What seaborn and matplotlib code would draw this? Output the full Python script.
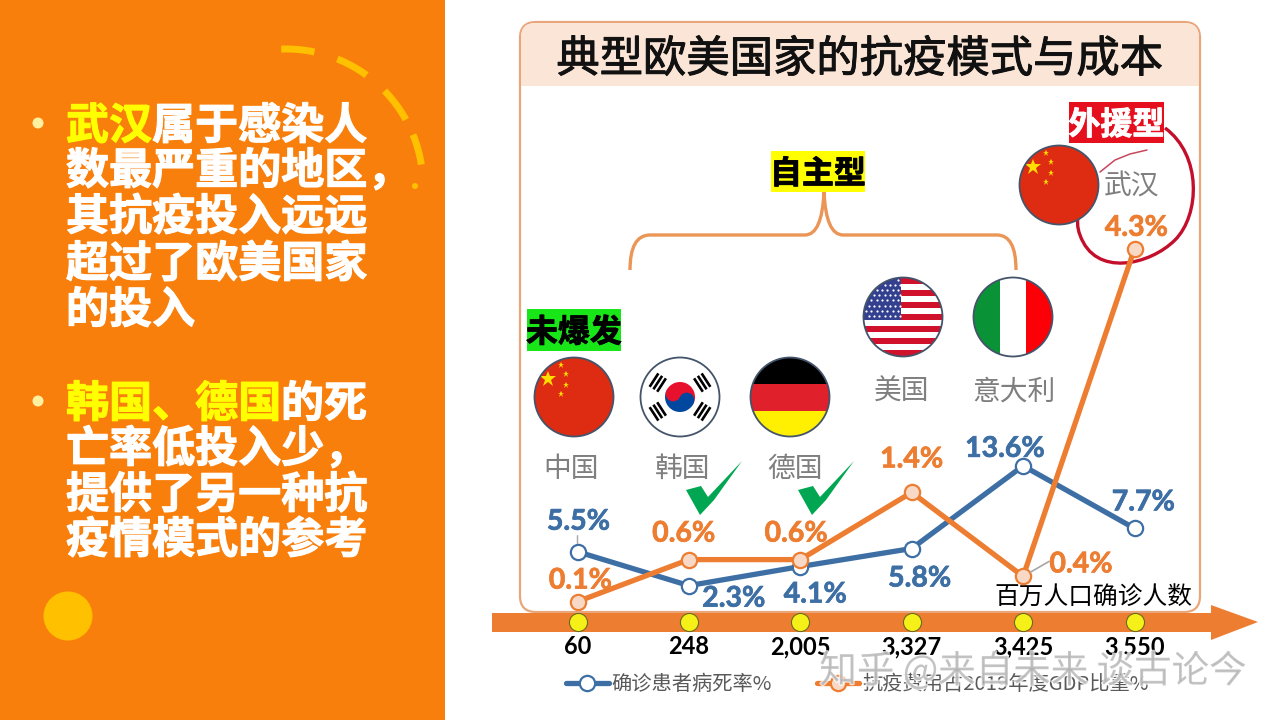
#!/usr/bin/env python3
# -*- coding: utf-8 -*-
import numpy as np
import pandas as pd
import matplotlib
matplotlib.use('Agg')
import matplotlib.pyplot as plt
import matplotlib.patheffects as pe
from matplotlib.patches import Rectangle, Circle, FancyBboxPatch, Polygon, Wedge, PathPatch
from matplotlib.path import Path
import seaborn as sns

regions = ['中国', '韩国', '德国', '美国', '意大利', '武汉']
cases = ['60', '248', '2,005', '3,327', '3,425', '3,550']
death_rate = [5.5, 2.3, 4.1, 5.8, 13.6, 7.7]
cost_share = [0.1, 0.6, 0.6, 1.4, 0.4, 4.3]
death_name = '确诊患者病死率%'
cost_name = '抗疫费用占2019年度GDP比重%'
title_text = '典型欧美国家的抗疫模式与成本'
axis_name = '百万人口确诊人数'
para_one = [[('武汉', 'y'), ('属于感染人', 'w')], [('数最严重的地区，', 'w')], [('其抗疫投入远远', 'w')],
            [('超过了欧美国家', 'w')], [('的投入', 'w')]]
para_two = [[('韩国、德国', 'y'), ('的死', 'w')], [('亡率低投入少，', 'w')], [('提供了另一种抗', 'w')],
            [('疫情模式的参考', 'w')]]

CJK = ['Noto Sans CJK SC', 'DejaVu Sans']
LATIN = ['Lato', 'Noto Sans CJK SC', 'DejaVu Sans']
BLUE = '#3d6fa5'
ORANGE = '#ed7d31'
BAND = '#f97f0c'
GOLD = '#ffc000'
PALE = '#eb9557'

sns.set_theme(style='white')
plt.rcParams['font.family'] = CJK

fig = plt.figure(figsize=(12.8, 7.2), dpi=100, facecolor='white')

# 底层：用像素坐标画装饰
bg = fig.add_axes([0, 0, 1, 1])
bg.set_xlim(0, 1280)
bg.set_ylim(720, 0)
bg.axis('off')

bg.add_patch(Rectangle((0, 0), 445, 720, color=BAND, lw=0))


def arc(cx, cy, r, a0, a1):
    t = np.radians(np.linspace(a0, a1, 30))
    bg.plot(cx + r * np.cos(t), cy + r * np.sin(t), color=GOLD, lw=5, solid_capstyle='butt')


for a0, a1 in [(-92, -78), (-68, -54), (-44, -29), (-22, -9)]:
    arc(286, 186, 137, a0, a1)
bg.add_patch(Circle((415, 186), 3, color=GOLD, lw=0))
bg.add_patch(Circle((68, 616), 24.5, color=GOLD, lw=0))


def runs(x, y, parts):
    colors = {'y': '#ffff00', 'w': 'white'}
    for txt, c in parts:
        bg.text(x, y, txt, color=colors[c], fontsize=31, fontweight='bold', ha='left', va='center',
                path_effects=[pe.withStroke(linewidth=0.8, foreground=colors[c])])
        x += 43 * len(txt)


for y, parts in zip([126, 171, 217, 264, 310], para_one):
    runs(66, y, parts)
for y, parts in zip([404, 449, 495, 540], para_two):
    runs(66, y, parts)
bg.add_patch(Circle((38, 123), 5.5, color='#fff1a0', lw=0))
bg.add_patch(Circle((38, 401), 5.5, color='#fff1a0', lw=0))

# 面板
bg.add_patch(FancyBboxPatch((520, 22), 680, 590, boxstyle='round,pad=0,rounding_size=16',
                            fc='white', ec='#e9a67a', lw=1.6))
bg.add_patch(FancyBboxPatch((521, 23), 678, 63, boxstyle='round,pad=0,rounding_size=14',
                            fc='#fbe5d6', ec='none'))
bg.add_patch(Rectangle((521, 60), 678, 26, fc='#fbe5d6', ec='none'))
bg.text(860, 60, title_text, fontsize=31.2, fontweight='medium', color='#111111', ha='center', va='center',
        path_effects=[pe.withStroke(linewidth=0.7, foreground='#111111')])

# 箭头
bg.add_patch(Polygon([(492, 613), (1211, 613), (1211, 605), (1258, 622), (1211, 640), (1211, 632), (492, 632)],
                     fc=ORANGE, ec='none', zorder=4))


# 国旗
def flag_base(cx, cy, fc, r=39.5):
    disc = Circle((cx, cy), r, fc=fc, ec='none', zorder=3)
    bg.add_patch(disc)
    return disc


def flag_edge(cx, cy, r=39.5):
    bg.add_patch(Circle((cx, cy), r, fc='none', ec='#44546a', lw=1.3, zorder=6))


def clip_rect(x, y, w, h, color, disc):
    p = Rectangle((x, y), w, h, fc=color, ec='none', zorder=4)
    bg.add_patch(p)
    p.set_clip_path(disc)


def china(cx, cy):
    flag_base(cx, cy, '#dd2c12')
    bg.plot(cx - 26, cy - 18, marker='*', ms=12, color='#ffde00', mew=0, zorder=5)
    for dx, dy in [(-13, -32), (-8, -23), (-8, -12), (-13, -3)]:
        bg.plot(cx + dx, cy + dy, marker='*', ms=5, color='#ffde00', mew=0, zorder=5)
    flag_edge(cx, cy)


def korea(cx, cy):
    flag_base(cx, cy, 'white')
    bg.add_patch(Wedge((cx, cy), 15, 205, 385, fc='#e8112d', ec='none', zorder=4))
    bg.add_patch(Wedge((cx, cy), 15, 25, 205, fc='#0047a0', ec='none', zorder=4))
    ca, sa = np.cos(np.radians(25)), np.sin(np.radians(25))
    bg.add_patch(Circle((cx - 7.5 * ca, cy - 7.5 * sa), 7.5, fc='#e8112d', ec='none', zorder=5))
    bg.add_patch(Circle((cx + 7.5 * ca, cy + 7.5 * sa), 7.5, fc='#0047a0', ec='none', zorder=5))
    for ang in [-147, -33, 33, 147]:
        ux, uy = np.cos(np.radians(ang)), np.sin(np.radians(ang))
        for d in [22, 26.5, 31]:
            mx, my = cx + d * ux, cy + d * uy
            bg.plot([mx - 8 * uy, mx + 8 * uy], [my + 8 * ux, my - 8 * ux], color='black', lw=1.9,
                    solid_capstyle='butt', zorder=5)
    flag_edge(cx, cy)


def germany(cx, cy):
    disc = flag_base(cx, cy, '#ffef00')
    clip_rect(cx - 40, cy - 40, 80, 27, 'black', disc)
    clip_rect(cx - 40, cy - 13, 80, 27, '#e0202a', disc)
    flag_edge(cx, cy)


def usa(cx, cy):
    disc = flag_base(cx, cy, 'white')
    h = 79 / 13
    for i in range(0, 13, 2):
        clip_rect(cx - 40, cy - 39.5 + i * h, 80, h, '#d0112b', disc)
    clip_rect(cx - 40, cy - 39.5, 38, 7 * h, '#33408f', disc)
    for r_i in range(8):
        for c_i in range(7):
            sx, sy = cx - 37 + c_i * 5.3 + (r_i % 2) * 2.6, cy - 37 + r_i * 5.1
            if (sx - cx) ** 2 + (sy - cy) ** 2 < 38 ** 2:
                bg.plot(sx, sy, 'o', ms=1.6, color='white', mew=0, zorder=5)
    flag_edge(cx, cy)


def italy(cx, cy):
    disc = flag_base(cx, cy, 'white')
    clip_rect(cx - 40, cy - 40, 27, 80, '#0a9236', disc)
    clip_rect(cx + 13, cy - 40, 27, 80, '#fb0007', disc)
    flag_edge(cx, cy)


china(574, 397)
korea(680, 397)
germany(790, 397)
usa(903, 317)
italy(1013, 317)
china(1059, 185)

# 地区名
for name, x, y in zip(regions, [571, 683, 795, 902, 1014, 1132], [469, 469, 469, 392, 392, 187]):
    bg.text(x, y, name, fontsize=20, color='#7f7f7f', ha='center', va='center')

# 对勾
for dx in [0, 112]:
    pts = [(686, 490), (701, 486), (708, 497), (742, 461), (714, 500), (700, 515)]
    bg.add_patch(Polygon([(x + dx, y) for x, y in pts], fc='#00a651', ec='none', zorder=5))


# 类型标签
def tag(x0, x1, y0, y1, txt, fc, tc):
    bg.add_patch(Rectangle((x0, y0), x1 - x0, y1 - y0, fc=fc, ec='none', zorder=6))
    bg.text((x0 + x1) / 2, (y0 + y1) / 2 + 3, txt, fontsize=23, fontweight='bold', color=tc, ha='center',
            va='center', zorder=7, path_effects=[pe.withStroke(linewidth=0.6, foreground=tc)])


tag(771, 865, 151, 192, '自主型', '#ffff00', 'black')
tag(1069, 1164, 102, 143, '外援型', '#e60f1e', 'white')
tag(527, 621, 309, 351, '未爆发', '#19e619', 'black')

# 大括号
brace = Path([(630, 270), (630, 235), (650, 235), (805, 235), (822, 235), (824, 192),
              (826, 235), (843, 235), (997, 235), (1016, 235), (1016, 270)],
             [Path.MOVETO, Path.CURVE3, Path.CURVE3, Path.LINETO, Path.CURVE3, Path.CURVE3,
              Path.CURVE3, Path.CURVE3, Path.LINETO, Path.CURVE3, Path.CURVE3])
bg.add_patch(PathPatch(brace, fc='none', ec=PALE, lw=2.4))

# 手绘红圈
ring = Path([(1165, 128), (1202, 155), (1200, 215), (1175, 240), (1150, 265), (1095, 278), (1080, 235),
             (1074, 220), (1080, 205), (1088, 195)],
            [Path.MOVETO] + [Path.CURVE4] * 9)
bg.add_patch(PathPatch(ring, fc='none', ec='#c40f2c', lw=2.4))
bg.plot([1100, 1115, 1130, 1147], [172, 160, 154, 150], color='#c9475c', lw=1.1, zorder=6)

bg.text(1093, 598, axis_name, fontsize=17.8, color='black', ha='center', va='center', zorder=8,
        fontweight='medium')

# 折线图：两条线共用类别轴
df = pd.DataFrame({'cases': cases, 'death': death_rate, 'cost': cost_share})

x_left, x_step = 577.5, 111.4
ax = fig.add_axes([(x_left - x_step / 2) / 1280, 110 / 720, 6 * x_step / 1280, 370 / 720])
ax.patch.set_alpha(0)
sns.lineplot(data=df, x='cases', y='death', ax=ax, color=BLUE, lw=3.8, marker='o', ms=11, mfc='white',
             mec=BLUE, mew=1.6, label=death_name, legend=False, sort=False)
ax.set_xlim(-0.5, 5.5)
ax.set_ylim(0, 370 / 10.6)

ax2 = ax.twinx()
ax2.patch.set_alpha(0)
sns.lineplot(data=df, x='cases', y='cost', ax=ax2, color=ORANGE, lw=3.8, marker='o', ms=11, mfc='#f8d9c6',
             mec=ORANGE, mew=1.6, label=cost_name, legend=False, sort=False)
ax2.set_ylim(0, 370 / 84)

for a in (ax, ax2):
    sns.despine(ax=a, left=True, bottom=True, right=True, top=True)
    a.set_xlabel('')
    a.set_ylabel('')
    a.set_yticks([])
    a.grid(False)

ax.tick_params(axis='x', length=0, pad=18)
for lab in ax.get_xticklabels():
    lab.set_fontfamily(LATIN)
    lab.set_fontsize(17)
    lab.set_fontweight('bold')
    lab.set_color('black')
ax2.tick_params(axis='x', labelbottom=False, length=0)

# 坐标轴上的黄点
ax.scatter(range(len(cases)), [-12 / 370] * len(cases), transform=ax.get_xaxis_transform(), s=170,
           color='#f5f018', edgecolor='#6d6a20', lw=0.8, clip_on=False, zorder=6)

# 数据标签，偏移量单位是像素
death_off = [(1, 30), (45, -13), (15, -28), (8, -30), (-18, 17), (9, 26)]
cost_off = [(3, 21), (-5, 26), (-4, 26), (0, 33), (58, 12), (2, 21)]


def label(a, values, offsets, color):
    for i, (v, off) in enumerate(zip(values, offsets)):
        a.annotate(f'{v}%', (i, v), xytext=off, textcoords='offset pixels', ha='center', va='center',
                   fontsize=20.5, fontweight='bold', family=LATIN, color=color, annotation_clip=False,
                   zorder=7, path_effects=[pe.withStroke(linewidth=0.5, foreground=color)])


label(ax, death_rate, death_off, BLUE)
label(ax2, cost_share, cost_off, ORANGE)

# 引导线
ax2.annotate('', (4, cost_share[4]), xytext=(26, 15), textcoords='offset pixels',
             arrowprops=dict(arrowstyle='-', color='#a6a6a6', lw=1.2, shrinkA=0, shrinkB=6))
ax.annotate('', (0, death_rate[0]), xytext=(0, 16), textcoords='offset pixels',
            arrowprops=dict(arrowstyle='-', color='#a6a6a6', lw=1.0, shrinkA=0, shrinkB=6))

# 图例
leg = fig.legend(handles=[ax.lines[0], ax2.lines[0]], labels=[death_name, cost_name], ncols=2,
                 loc='center left', bbox_to_anchor=(566 / 1280, 1 - 685 / 720), frameon=False,
                 fontsize=14.6, handlelength=2.1, handletextpad=0.15, columnspacing=2.2, labelcolor='#595959',
                 borderpad=0, borderaxespad=0)
for t in leg.get_texts():
    t.set_fontfamily(CJK)

# 水印
fig.text(1033 / 1280, 1 - 672 / 720, '知乎 @来自未来 谈古论今', fontsize=27, color=(0.65, 0.65, 0.65, 0.6), ha='center',
         va='center', zorder=20, path_effects=[pe.withStroke(linewidth=1.8, foreground=(1, 1, 1, 0.75))])

fig.savefig('out.png', dpi=100)
plt.close(fig)
